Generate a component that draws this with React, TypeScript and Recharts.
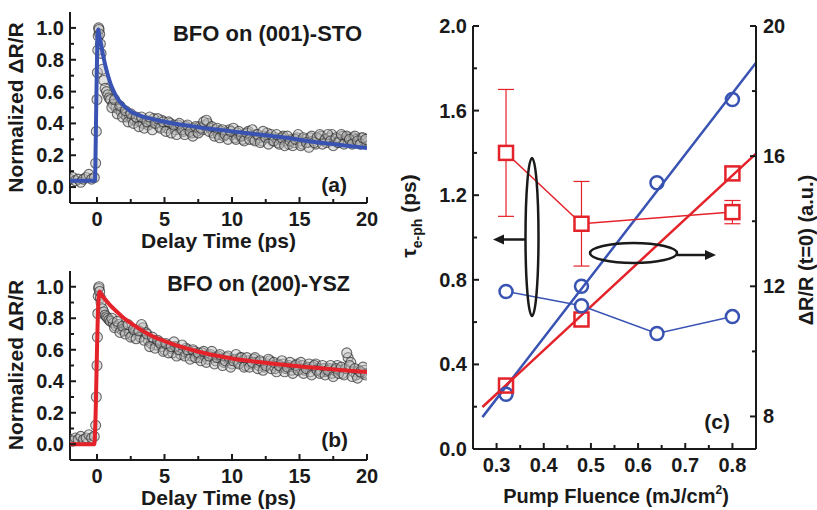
import { ComposedChart, Scatter, Line, XAxis, YAxis, ErrorBar } from "recharts";

const FONT = "'Liberation Sans', Arial, sans-serif";
const INK = "#1a1a1a";
const BLUE = "#3953b3";
const RED = "#e4222a";

// panels (a) and (b): transient reflectivity
const delayTime = [
  -2.0, -1.8, -1.6, -1.4, -1.2, -1.0, -0.8, -0.6, -0.4, -0.2,
  -0.1, -0.05,
  0.0, 0.03, 0.06, 0.09, 0.12, 0.15,
  0.2, 0.25, 0.3,
  0.4, 0.5, 0.6, 0.7, 0.8, 0.9, 1.0,
  1.2, 1.4, 1.6, 1.8, 2.0, 2.2, 2.4, 2.6, 2.8, 3.0,
  3.2, 3.4, 3.6, 3.8, 4.0, 4.2, 4.4, 4.6, 4.8, 5.0,
  5.2, 5.4, 5.6, 5.8, 6.0, 6.2, 6.4, 6.6, 6.8, 7.0,
  7.2, 7.4, 7.6, 7.8, 8.0, 8.2, 8.4, 8.6, 8.8, 9.0,
  9.2, 9.4, 9.6, 9.8, 10.0, 10.2, 10.4, 10.6, 10.8, 11.0,
  11.2, 11.4, 11.6, 11.8, 12.0, 12.2, 12.4, 12.6, 12.8, 13.0,
  13.2, 13.4, 13.6, 13.8, 14.0, 14.2, 14.4, 14.6, 14.8, 15.0,
  15.2, 15.4, 15.6, 15.8, 16.0, 16.2, 16.4, 16.6, 16.8, 17.0,
  17.2, 17.4, 17.6, 17.8, 18.0, 18.2, 18.4, 18.6, 18.8, 19.0,
  19.2, 19.4, 19.6, 19.8, 20.0,
];

const signalSTO = [
  0.05, 0.06, 0.04, 0.05, 0.03, 0.05, 0.06, 0.08, 0.05, 0.06,
  0.15, 0.35,
  0.55, 0.72, 0.86, 0.95, 1.0, 0.99,
  0.96, 0.9, 0.84,
  0.74, 0.67, 0.62, 0.6, 0.58, 0.56, 0.55,
  0.52, 0.5, 0.49, 0.47, 0.46, 0.44, 0.45, 0.43, 0.42, 0.43,
  0.41, 0.4, 0.42, 0.39, 0.41, 0.43, 0.4, 0.38, 0.42, 0.39,
  0.37, 0.4, 0.38, 0.36, 0.39, 0.37, 0.35, 0.38, 0.36, 0.34,
  0.37, 0.35, 0.38, 0.36, 0.39, 0.4, 0.37, 0.34, 0.36, 0.33,
  0.35, 0.32, 0.34, 0.36, 0.33, 0.31, 0.34, 0.32, 0.3, 0.33,
  0.35, 0.32, 0.3, 0.33, 0.31, 0.29, 0.32, 0.34, 0.31, 0.29,
  0.31, 0.28, 0.3, 0.32, 0.29, 0.27, 0.3, 0.28, 0.31, 0.29,
  0.27, 0.3, 0.28, 0.31, 0.29, 0.27, 0.3, 0.32, 0.29, 0.28,
  0.31, 0.33, 0.3, 0.28, 0.3, 0.32, 0.29, 0.31, 0.29, 0.31,
  0.3, 0.28, 0.31, 0.29, 0.28,
];

const signalYSZ = [
  0.03, 0.02, 0.04, 0.03, 0.05, 0.03, 0.04, 0.06, 0.04, 0.05,
  0.12, 0.3,
  0.5, 0.68, 0.83, 0.94, 0.99, 1.0,
  0.97, 0.93, 0.9,
  0.86, 0.84, 0.82, 0.81, 0.8, 0.79, 0.78,
  0.77, 0.75, 0.76, 0.73, 0.72, 0.74, 0.71, 0.69, 0.72, 0.7,
  0.68, 0.74, 0.71, 0.66, 0.64, 0.66, 0.63, 0.65, 0.62, 0.6,
  0.63, 0.61, 0.58, 0.62, 0.6, 0.57, 0.59, 0.61, 0.58, 0.56,
  0.59, 0.57, 0.55, 0.58, 0.56, 0.54, 0.57, 0.55, 0.53, 0.56,
  0.54, 0.52, 0.55, 0.53, 0.51, 0.54, 0.52, 0.55, 0.53, 0.5,
  0.53, 0.51, 0.54, 0.52, 0.5, 0.52, 0.49, 0.51, 0.53, 0.5,
  0.48, 0.51, 0.49, 0.51, 0.48, 0.5, 0.47, 0.49, 0.51, 0.48,
  0.5, 0.47, 0.49, 0.46, 0.49, 0.51, 0.48, 0.46, 0.48, 0.46,
  0.48, 0.45, 0.47, 0.5, 0.47, 0.45, 0.48, 0.55, 0.52, 0.46,
  0.44, 0.47, 0.45, 0.47, 0.45,
];

// in-between samples (odd tenths of a ps)
const delayTimeFine = [
  1.1, 1.3, 1.5, 1.7, 1.9, 2.1, 2.3, 2.5, 2.7, 2.9,
  3.1, 3.3, 3.5, 3.7, 3.9, 4.1, 4.3, 4.5, 4.7, 4.9,
  5.1, 5.3, 5.5, 5.7, 5.9, 6.1, 6.3, 6.5, 6.7, 6.9,
  7.1, 7.3, 7.5, 7.7, 7.9, 8.1, 8.3, 8.5, 8.7, 8.9,
  9.1, 9.3, 9.5, 9.7, 9.9, 10.1, 10.3, 10.5, 10.7, 10.9,
  11.1, 11.3, 11.5, 11.7, 11.9, 12.1, 12.3, 12.5, 12.7, 12.9,
  13.1, 13.3, 13.5, 13.7, 13.9, 14.1, 14.3, 14.5, 14.7, 14.9,
  15.1, 15.3, 15.5, 15.7, 15.9, 16.1, 16.3, 16.5, 16.7, 16.9,
  17.1, 17.3, 17.5, 17.7, 17.9, 18.1, 18.3, 18.5, 18.7, 18.9,
  19.1, 19.3, 19.5, 19.7, 19.9,
];

const signalSTOFine = [
  0.5, 0.55, 0.46, 0.51, 0.44, 0.48, 0.41, 0.46, 0.4, 0.44,
  0.38, 0.44, 0.37, 0.41, 0.44, 0.36, 0.4, 0.43, 0.37, 0.41,
  0.35, 0.41, 0.34, 0.39, 0.33, 0.4, 0.36, 0.33, 0.39, 0.35,
  0.32, 0.38, 0.34, 0.37, 0.41, 0.42, 0.35, 0.38, 0.32, 0.37,
  0.31, 0.36, 0.33, 0.3, 0.35, 0.37, 0.3, 0.35, 0.32, 0.29,
  0.34, 0.3, 0.36, 0.29, 0.33, 0.28, 0.35, 0.31, 0.27, 0.33,
  0.29, 0.33, 0.27, 0.31, 0.26, 0.32, 0.29, 0.26, 0.3, 0.33,
  0.26, 0.31, 0.28, 0.25, 0.32, 0.28, 0.31, 0.33, 0.27, 0.3,
  0.33, 0.29, 0.26, 0.31, 0.28, 0.33, 0.27, 0.32, 0.3, 0.27,
  0.32, 0.29, 0.27, 0.31, 0.3,
];

const signalYSZFine = [
  0.8, 0.74, 0.78, 0.71, 0.75, 0.7, 0.76, 0.68, 0.73, 0.67,
  0.72, 0.76, 0.66, 0.7, 0.62, 0.68, 0.61, 0.66, 0.64, 0.59,
  0.64, 0.58, 0.62, 0.65, 0.56, 0.6, 0.63, 0.56, 0.6, 0.54,
  0.6, 0.55, 0.58, 0.53, 0.59, 0.52, 0.56, 0.59, 0.51, 0.55,
  0.57, 0.5, 0.53, 0.56, 0.49, 0.53, 0.57, 0.51, 0.55, 0.49,
  0.55, 0.49, 0.52, 0.55, 0.48, 0.53, 0.47, 0.5, 0.54, 0.48,
  0.52, 0.46, 0.5, 0.53, 0.46, 0.49, 0.52, 0.45, 0.5, 0.47,
  0.52, 0.45, 0.48, 0.51, 0.44, 0.5, 0.47, 0.45, 0.5, 0.44,
  0.47, 0.5, 0.43, 0.48, 0.45, 0.49, 0.44, 0.58, 0.5, 0.43,
  0.48, 0.42, 0.46, 0.49, 0.44,
];

const fitTimeSTO = [-2, -0.15, -0.1, -0.05, 0, 0.05, 0.1, 0.15, 0.2, 0.3, 0.4, 0.5, 0.6, 0.75, 1, 1.25, 1.5, 2, 2.5, 3, 3.5, 4, 5, 6, 7, 8, 9, 10, 12, 14, 16, 18, 20];
const fitSTO = [0.04, 0.04, 0.25, 0.55, 0.8, 0.97, 0.99, 0.96, 0.94, 0.9, 0.85, 0.81, 0.77, 0.72, 0.65, 0.6, 0.56, 0.51, 0.475, 0.455, 0.44, 0.43, 0.41, 0.395, 0.383, 0.37, 0.36, 0.35, 0.33, 0.31, 0.285, 0.265, 0.245];

const fitTimeYSZ = [-2, -0.2, -0.1, 0, 0.1, 0.2, 0.3, 0.5, 0.75, 1, 1.5, 2, 2.5, 3, 4, 5, 6, 7, 8, 9, 10, 12, 14, 16, 18, 20];
const fitYSZ = [0, 0, 0.2, 0.6, 0.9, 0.97, 0.955, 0.93, 0.905, 0.88, 0.84, 0.8, 0.77, 0.74, 0.69, 0.655, 0.625, 0.6, 0.578, 0.56, 0.545, 0.522, 0.503, 0.487, 0.472, 0.458];

const delayTicks = [0, 2.5, 5, 7.5, 10, 12.5, 15, 17.5, 20];
const delayLabels = [0, 5, 10, 15, 20];
const normTicks = [0, 0.1, 0.2, 0.3, 0.4, 0.5, 0.6, 0.7, 0.8, 0.9, 1.0];
const normLabels = [0, 0.2, 0.4, 0.6, 0.8, 1.0];

// panel (c): fluence dependence
const fluence = [0.32, 0.48, 0.64, 0.8];
const tauCircle = [0.745, 0.677, 0.546, 0.626];
const ampCircle = [8.68, 12.0, 15.18, 17.74];
const fluenceSquare = [0.32, 0.48, 0.8];
const tauSquare = [1.4, 1.065, 1.12];
const tauSquareErr = [0.3, 0.2, 0.055];
const ampSquare = [8.95, 10.98, 15.47];
const fitFluence = [0.27, 0.85];
const fitAmpCircle = [7.98, 18.87];
const fitAmpSquare = [8.29, 16.08];

const fluenceTicks = [0.3, 0.35, 0.4, 0.45, 0.5, 0.55, 0.6, 0.65, 0.7, 0.75, 0.8];
const fluenceLabels = [0.3, 0.4, 0.5, 0.6, 0.7, 0.8];
const tauTicks = [0, 0.2, 0.4, 0.6, 0.8, 1.0, 1.2, 1.4, 1.6, 1.8, 2.0];
const tauLabels = [0, 0.4, 0.8, 1.2, 1.6, 2.0];
const ampTicks = [8, 10, 12, 14, 16, 18, 20];
const ampLabels = [8, 12, 16, 20];

const axisLine = { stroke: INK, strokeWidth: 2 };
const textStyle = { fontFamily: FONT, fontWeight: 700, fill: INK };

const makeTick =
  (side: string, major: number[], fmt: (v: number) => string, labelled: boolean) =>
  (p: any) => {
    const { x, y, payload } = p;
    const v = payload.value;
    const isMajor = major.includes(v);
    const len = isMajor ? 6 : 4;
    let x2 = x;
    let y2 = y;
    if (side === "bottom") y2 = y - len;
    if (side === "top") y2 = y + len;
    if (side === "left") x2 = x + len;
    if (side === "right") x2 = x - len;
    let label = null;
    if (labelled && isMajor) {
      if (side === "bottom")
        label = <text x={x} y={y + 23} textAnchor="middle" fontSize={20} {...textStyle}>{fmt(v)}</text>;
      if (side === "left")
        label = <text x={x - 6} y={y + 7} textAnchor="end" fontSize={20} {...textStyle}>{fmt(v)}</text>;
      if (side === "right")
        label = <text x={x + 7} y={y + 7} textAnchor="start" fontSize={20} {...textStyle}>{fmt(v)}</text>;
    }
    return (
      <g>
        <line x1={x} y1={y} x2={x2} y2={y2} stroke={INK} strokeWidth={2} />
        {label}
      </g>
    );
  };

const GrayCircle = (p: any) => (
  <circle cx={p.cx} cy={p.cy} r={5} fill="#bdbdbd" fillOpacity={0.45} stroke="#2e2e2e" strokeOpacity={0.7} strokeWidth={1.1} />
);

type DecayProps = {
  top: number;
  height: number;
  marginTop: number;
  xAxisHeight: number;
  signal: number[];
  signalFine: number[];
  fitTime: number[];
  fit: number[];
  color: string;
};

const DecayPanel = ({ top, height, marginTop, xAxisHeight, signal, signalFine, fitTime, fit, color }: DecayProps) => {
  const points = delayTime.map((t, i) => ({ t, v: signal[i] }));
  const finePoints = delayTimeFine.map((t, i) => ({ t, v: signalFine[i] }));
  const curve = fitTime.map((t, i) => ({ t, v: fit[i] }));
  return (
    <div style={{ position: "absolute", left: 0, top, width: 380, height }}>
      <ComposedChart width={380} height={height} margin={{ top: marginTop, right: 13, bottom: 0, left: 0 }}>
        <XAxis xAxisId="b" dataKey="t" type="number" domain={[-2, 20]} allowDataOverflow ticks={delayTicks} interval={0}
          height={xAxisHeight} tickSize={0} tickMargin={0} tickLine={false} axisLine={axisLine}
          tick={makeTick("bottom", delayLabels, (v) => String(v), true)} />
        <XAxis xAxisId="t" orientation="top" dataKey="t" type="number" domain={[-2, 20]} allowDataOverflow ticks={delayTicks} interval={0}
          height={0} tickSize={0} tickMargin={0} tickLine={false} axisLine={axisLine}
          tick={makeTick("top", delayLabels, (v) => String(v), false)} />
        <YAxis yAxisId="l" dataKey="v" type="number" domain={[-0.1, 1.1]} allowDataOverflow ticks={normTicks} interval={0}
          width={70} tickSize={0} tickMargin={0} tickLine={false} axisLine={axisLine}
          tick={makeTick("left", normLabels, (v) => v.toFixed(1), true)} />
        <YAxis yAxisId="r" orientation="right" dataKey="v" type="number" domain={[-0.1, 1.1]} allowDataOverflow ticks={normTicks} interval={0}
          width={0} tickSize={0} tickMargin={0} tickLine={false} axisLine={axisLine}
          tick={makeTick("right", normLabels, (v) => v.toFixed(1), false)} />
        <Scatter xAxisId="b" yAxisId="l" data={points} dataKey="v" shape={GrayCircle} isAnimationActive={false} />
        <Scatter xAxisId="b" yAxisId="l" data={finePoints} dataKey="v" shape={GrayCircle} isAnimationActive={false} />
        <Line xAxisId="b" yAxisId="l" data={curve} dataKey="v" type="monotone" stroke={color} strokeWidth={4}
          dot={false} activeDot={false} isAnimationActive={false} zIndex={700} />
      </ComposedChart>
    </div>
  );
};

const Square = (color: string, fill: string) => (p: any) => {
  if (p.cx == null || p.cy == null) return <g />;
  return <rect x={p.cx - 7} y={p.cy - 7} width={14} height={14} fill={fill} stroke={color} strokeWidth={2.5} />;
};

const Ring = (color: string, fill: string) => (p: any) => {
  if (p.cx == null || p.cy == null) return <g />;
  return <circle cx={p.cx} cy={p.cy} r={6.5} fill={fill} stroke={color} strokeWidth={2.5} />;
};

const FluencePanel = () => {
  const tauC = fluence.map((t, i) => ({ t, v: tauCircle[i] }));
  const ampC = fluence.map((t, i) => ({ t, v: ampCircle[i] }));
  const tauS = fluenceSquare.map((t, i) => ({ t, v: tauSquare[i], e: tauSquareErr[i] }));
  const ampS = fluenceSquare.map((t, i) => ({ t, v: ampSquare[i] }));
  const fitC = fitFluence.map((t, i) => ({ t, v: fitAmpCircle[i] }));
  const fitS = fitFluence.map((t, i) => ({ t, v: fitAmpSquare[i] }));
  const fmt1 = (v: number) => v.toFixed(1);
  return (
    <div style={{ position: "absolute", left: 400, top: 0, width: 417, height: 510 }}>
      <ComposedChart width={417} height={510} margin={{ top: 26, right: 0, bottom: 0, left: 0 }}>
        <XAxis xAxisId="b" dataKey="t" type="number" domain={[0.25, 0.85]} allowDataOverflow ticks={fluenceTicks} interval={0}
          height={61} tickSize={0} tickMargin={0} tickLine={false} axisLine={axisLine}
          tick={makeTick("bottom", fluenceLabels, fmt1, true)} />
        <XAxis xAxisId="t" orientation="top" dataKey="t" type="number" domain={[0.25, 0.85]} allowDataOverflow ticks={fluenceTicks} interval={0}
          height={0} tickSize={0} tickMargin={0} tickLine={false} axisLine={axisLine}
          tick={makeTick("top", fluenceLabels, fmt1, false)} />
        <YAxis yAxisId="l" dataKey="v" type="number" domain={[0, 2]} allowDataOverflow ticks={tauTicks} interval={0}
          width={73} tickSize={0} tickMargin={0} tickLine={false} axisLine={axisLine}
          tick={makeTick("left", tauLabels, fmt1, true)} />
        <YAxis yAxisId="r" orientation="right" dataKey="v" type="number" domain={[7, 20]} allowDataOverflow ticks={ampTicks} interval={0}
          width={61} tickSize={0} tickMargin={0} tickLine={false} axisLine={axisLine}
          tick={makeTick("right", ampLabels, (v) => String(v), true)} />
        <Line xAxisId="b" yAxisId="r" data={fitC} dataKey="v" type="linear" stroke={BLUE} strokeWidth={2.5}
          dot={false} activeDot={false} isAnimationActive={false} />
        <Line xAxisId="b" yAxisId="r" data={fitS} dataKey="v" type="linear" stroke={RED} strokeWidth={2.5}
          dot={false} activeDot={false} isAnimationActive={false} />
        <Scatter xAxisId="b" yAxisId="r" data={ampC} dataKey="v" shape={Ring(BLUE, "none")} isAnimationActive={false} />
        <Scatter xAxisId="b" yAxisId="r" data={ampS} dataKey="v" shape={Square(RED, "none")} isAnimationActive={false} />
        <Line xAxisId="b" yAxisId="l" data={tauC} dataKey="v" type="linear" stroke={BLUE} strokeWidth={1.5}
          dot={Ring(BLUE, "#fff")} activeDot={false} isAnimationActive={false} />
        <Line xAxisId="b" yAxisId="l" data={tauS} dataKey="v" type="linear" stroke={RED} strokeWidth={1.5}
          dot={Square(RED, "#fff")} activeDot={false} isAnimationActive={false}>
          <ErrorBar dataKey="e" width={8} stroke={RED} strokeWidth={1.2} direction="y" />
        </Line>
      </ComposedChart>
    </div>
  );
};

const Overlay = () => (
  <svg width={817} height={510} style={{ position: "absolute", left: 0, top: 0, pointerEvents: "none" }}>
    {/* panel (a) */}
    <text x={362} y={41} textAnchor="end" fontSize={22} {...textStyle}>BFO on (001)-STO</text>
    <text x={347} y={192} textAnchor="end" fontSize={21} {...textStyle}>(a)</text>
    <text x={218.5} y={248} textAnchor="middle" fontSize={21} {...textStyle}>Delay Time (ps)</text>
    <text transform="translate(23,107.5) rotate(-90)" textAnchor="middle" fontSize={21} {...textStyle}>Normalized ΔR/R</text>
    {/* panel (b) */}
    <text x={350} y={291} textAnchor="end" fontSize={21.5} {...textStyle}>BFO on (200)-YSZ</text>
    <text x={348} y={447} textAnchor="end" fontSize={21} {...textStyle}>(b)</text>
    <text x={218.5} y={505} textAnchor="middle" fontSize={21} {...textStyle}>Delay Time (ps)</text>
    <text transform="translate(23,365) rotate(-90)" textAnchor="middle" fontSize={21} {...textStyle}>Normalized ΔR/R</text>
    {/* panel (c) */}
    <text x={730} y={429} textAnchor="end" fontSize={21} {...textStyle}>(c)</text>
    <text x={616} y={503} textAnchor="middle" fontSize={20} {...textStyle}>
      Pump Fluence (mJ/cm<tspan fontSize={12} dy={-9}>2</tspan><tspan dy={9}>)</tspan>
    </text>
    <text transform="translate(416,216) rotate(-90)" textAnchor="middle" fontSize={21} {...textStyle}>
      τ<tspan fontSize={14} dy={6}>e-ph</tspan><tspan dy={-6}> (ps)</tspan>
    </text>
    <text transform="translate(813,250) rotate(-90)" textAnchor="middle" fontSize={20} {...textStyle}>ΔR/R (t=0) (a.u.)</text>
    {/* guide ellipses and arrows */}
    <ellipse cx={532} cy={237} rx={6.5} ry={79} fill="none" stroke={INK} strokeWidth={2.5} />
    <line x1={525} y1={239.5} x2={502} y2={239.5} stroke={INK} strokeWidth={2.5} />
    <polygon points="493,239.5 504,234.5 504,244.5" fill={INK} />
    <ellipse cx={633.5} cy={253} rx={43.5} ry={10} fill="none" stroke={INK} strokeWidth={2.5} />
    <line x1={677} y1={255} x2={706} y2={255} stroke={INK} strokeWidth={2.5} />
    <polygon points="716,255 705,250 705,260" fill={INK} />
  </svg>
);

const App = () => (
  <div style={{ position: "absolute", left: 0, top: 0, width: 817, height: 510, background: "#fff" }}>
    <DecayPanel top={0} height={255} marginTop={12} xAxisHeight={52} signal={signalSTO} signalFine={signalSTOFine}
      fitTime={fitTimeSTO} fit={fitSTO} color={BLUE} />
    <DecayPanel top={258} height={252} marginTop={13} xAxisHeight={50} signal={signalYSZ} signalFine={signalYSZFine}
      fitTime={fitTimeYSZ} fit={fitYSZ} color={RED} />
    <FluencePanel />
    <Overlay />
  </div>
);

export default App;
